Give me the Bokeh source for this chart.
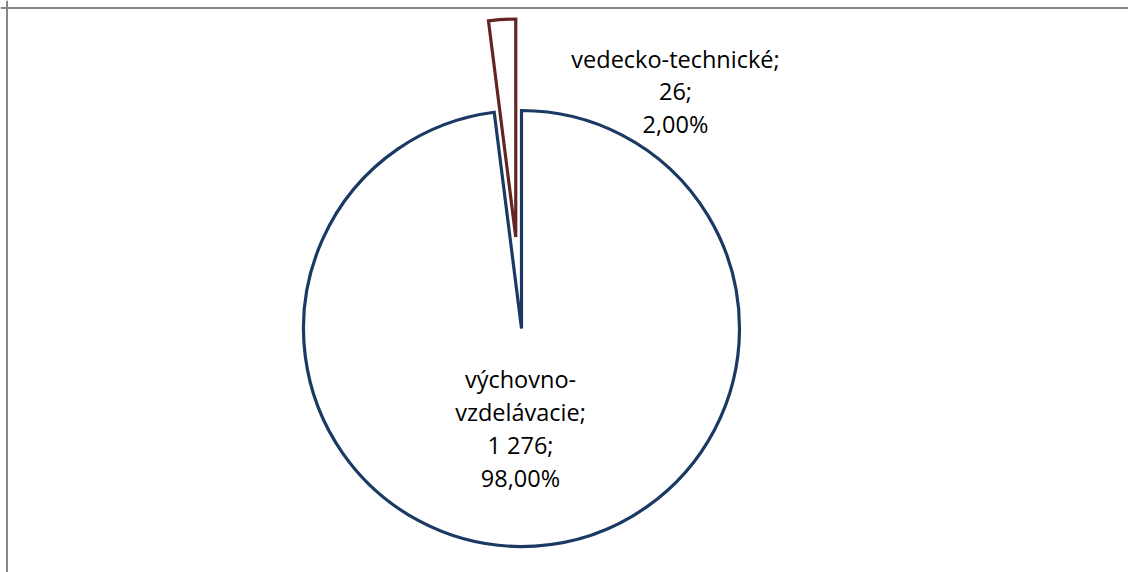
import math
from bokeh.plotting import figure
from bokeh.models import ColumnDataSource, Range1d, Span
from bokeh.core.properties import value
from bokeh.embed import file_html
from bokeh.resources import INLINE

# ---- data ----
categories = ["výchovno-vzdelávacie", "vedecko-technické"]
counts = [1276, 26]
count_labels = ["1 276", "26"]
pct_labels = ["98,00%", "2,00%"]
label_names = ["výchovno-\nvzdelávacie", "vedecko-technické"]
explode = [0.0, 0.42]
line_colors = ["#1B3A63", "#632523"]

# ---- layout ----
R = 218.0             # pie radius in px
W, H = 1128, 572
OX, OY = 0, 0         # page offset of the figure
cx_pg, cy_pg = 521.0, 328.0
x_lo = (OX - cx_pg) / R
x_hi = (OX + W - cx_pg) / R
y_hi = (cy_pg - OY) / R
y_lo = (cy_pg - (OY + H)) / R

total = float(sum(counts))
start = math.pi / 2
starts, ends, xs, ys = [], [], [], []
for c, e in zip(counts, explode):
    sweep = 2 * math.pi * c / total
    s, en = start, start - sweep
    mid = (s + en) / 2
    starts.append(s)
    ends.append(en)
    xs.append(e * math.cos(mid))
    ys.append(e * math.sin(mid))
    start = en

src = ColumnDataSource(dict(x=xs, y=ys, start=starts, end=ends,
                            color=line_colors, cat=categories))

p = figure(width=W, height=H, output_backend="svg", toolbar_location=None,
           x_range=Range1d(x_lo, x_hi), y_range=Range1d(y_lo, y_hi),
           min_border=0, background_fill_color="white",
           border_fill_color="white", outline_line_color=None)
p.axis.visible = False
p.grid.visible = False

p.wedge(x="x", y="y", radius=1.0, start_angle="start", end_angle="end",
        direction="clock", source=src, fill_color="white",
        line_color="color", line_width=3.2, line_join="miter")

# chart area border (top and left visible)
p.add_layout(Span(location=(6.5 - cx_pg) / R, dimension="height",
                  line_color="#868686", line_width=2))
p.add_layout(Span(location=(cy_pg - 7.5) / R, dimension="width",
                  line_color="#868686", line_width=2))

# data labels
texts = [f"{n};\n{c};\n{pc}" for n, c, pc in zip(label_names, count_labels, pct_labels)]
lab_x = [(520 - cx_pg) / R, (675 - cx_pg) / R]
lab_y = [(cy_pg - 428) / R, (cy_pg - 91) / R]
lsrc = ColumnDataSource(dict(x=lab_x, y=lab_y, text=texts))
p.text(x="x", y="y", text="text", source=lsrc, text_align="center",
       text_baseline="middle", text_font=value("Open Sans"),
       text_font_size="23.5px", text_color="#000000", text_line_height=1.03)

open("out.html", "w").write(file_html(p, INLINE))
